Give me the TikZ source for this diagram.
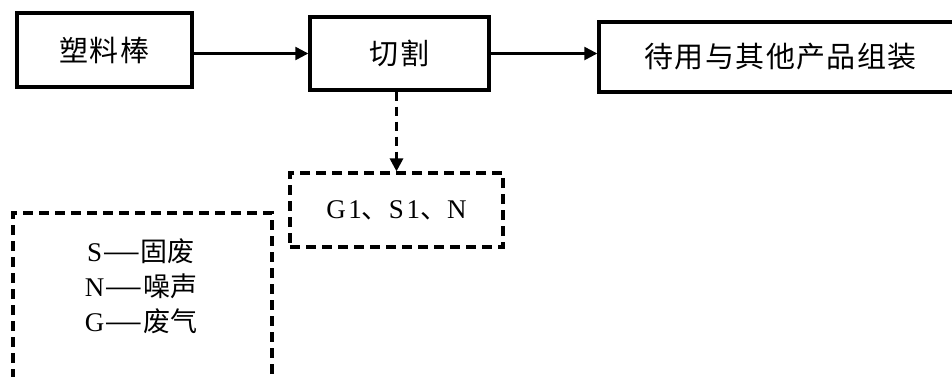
\documentclass[tikz,border=0pt]{standalone}
\usepackage{fontspec}
\setmainfont{Liberation Serif}
\newfontfamily\cjk{Noto Sans CJK SC}
\newfontfamily\cjkwide[LetterSpace=5]{Noto Sans CJK SC}
\newfontfamily\serifwide[LetterSpace=10]{Liberation Serif}
\usetikzlibrary{arrows.meta}
\newcommand{\longdash}{\scalebox{1.6}[1]{—}}
\tikzset{
  procbox/.style={draw, line width=3.4pt, rectangle, inner sep=0pt, font=\cjkwide\fontsize{29}{34}\selectfont},
  dashbox/.style={draw, line width=3.2pt, dash pattern=on 10pt off 6pt},
  arr/.style={line width=2.4pt, -{Triangle[length=13pt,width=13pt]}},
  dasharr/.style={line width=3pt, dash pattern=on 9pt off 6pt, -{Triangle[length=13pt,width=13pt]}},
  lbl/.style={font=\fontsize{27}{32}\selectfont, inner sep=0pt}
}
\begin{document}
\begin{tikzpicture}[x=1pt,y=-1pt]
\useasboundingbox (0,0) rectangle (952,376);
\clip (0,0) rectangle (952,376);
\node[procbox, minimum width=175pt, minimum height=74pt] (b1) at (104.5,50) {塑料棒};
\node[procbox, minimum width=179pt, minimum height=73pt] (b2) at (399.5,53.5) {切割};
\node[procbox, minimum width=363pt, minimum height=70pt] (b3) at (780.5,57) {待用与其他产品组装};
\node[dashbox, minimum width=213pt, minimum height=74pt, lbl] (g1) at (396.5,210) {\serifwide G1{\cjk 、}S1{\cjk 、}N};
\draw[arr] (b1.east |- b2.west) -- (b2.west);
\draw[arr] (b2.east) -- (b2.east -| b3.west);
\draw[dasharr] (g1.north |- b2.south) -- (g1.north);
\draw[dashbox] (13,395) -- (13,213) -- (272,213) -- (272,395);
\node[lbl, align=center] (leg) at (141,286) {S{\cjk\longdash 固废}\\[3pt]N{\cjk\longdash 噪声}\\[3pt]G{\cjk\longdash 废气}};
\end{tikzpicture}
\end{document}
